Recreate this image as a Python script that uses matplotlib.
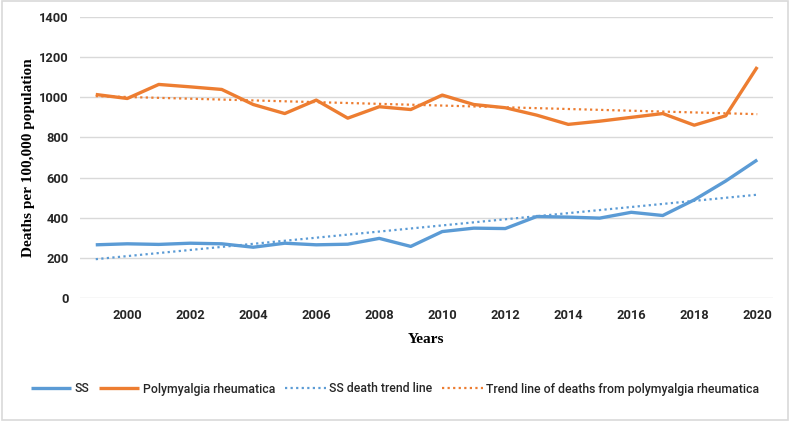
import matplotlib
matplotlib.use("Agg")
import matplotlib.pyplot as plt
from matplotlib.patches import Rectangle
import numpy as np

years = list(range(1999, 2021))
ss = [265, 270, 267, 273, 270, 253, 273, 265, 268, 297, 257,
      331, 348, 346, 406, 403, 398, 427, 411, 489, 583, 688]
pmr = [1014, 994, 1064, 1052, 1039, 964, 919, 986, 896, 953, 939,
       1011, 964, 948, 911, 865, 881, 900, 919, 861, 908, 1151]
yticks = [0, 200, 400, 600, 800, 1000, 1200, 1400]
xticks = list(range(2000, 2021, 2))

blue = "#5B9BD5"
orange = "#ED7D31"
tick_font = ["Roboto", "DejaVu Sans"]

fig = plt.figure(figsize=(7.9, 4.21), dpi=100)
ax = fig.add_axes([80 / 790, 1 - 298 / 421, 693 / 790, 281 / 421])

x = np.array(years)
# excel style linear trend lines
ss_fit = np.polyval(np.polyfit(x, ss, 1), x)
pmr_fit = np.polyval(np.polyfit(x, pmr, 1), x)

ax.plot(x, ss, color=blue, lw=2.4, label="SS", solid_capstyle="butt")
ax.plot(x, pmr, color=orange, lw=2.4, label="Polymyalgia rheumatica", solid_capstyle="butt")
ax.plot(x, ss_fit, color=blue, lw=1.6, ls=(0, (1, 1.5)), label="SS death trend line")
ax.plot(x, pmr_fit, color=orange, lw=1.6, ls=(0, (1, 1.5)),
        label="Trend line of deaths from polymyalgia rheumatica")

ax.set_xlim(1998.5, 2020.5)
ax.set_ylim(0, 1400)
ax.set_yticks(yticks)
ax.set_xticks(xticks)
ax.grid(axis="y", color="#D9D9D9", lw=1)
ax.set_axisbelow(True)
for s in ax.spines.values():
    s.set_visible(False)
ax.tick_params(length=0, pad=8)
for lab in ax.get_xticklabels() + ax.get_yticklabels():
    lab.set_family(tick_font)
    lab.set_fontweight("bold")
    lab.set_fontsize(9.3)
    lab.set_color("#262626")

ax.set_ylabel("Deaths per 100,000 population", family="Liberation Serif",
              fontweight="bold", fontsize=11, labelpad=3)
ax.set_xlabel("Years", family="Liberation Serif", fontweight="bold",
              fontsize=11, labelpad=8)

leg = fig.legend(loc="center", bbox_to_anchor=(395 / 790, 1 - 389 / 421), ncol=4,
                 frameon=False, handlelength=3.3, handletextpad=0.3,
                 columnspacing=0.8, prop={"family": tick_font, "size": 8.8,
                                          "weight": "medium"})
for t in leg.get_texts():
    t.set_color("#262626")

fig.patches.append(Rectangle((0.002, 0.003), 0.996, 0.994, transform=fig.transFigure,
                             fill=False, edgecolor="#D9D9D9", lw=1.2))

fig.savefig("out.png", dpi=100)
